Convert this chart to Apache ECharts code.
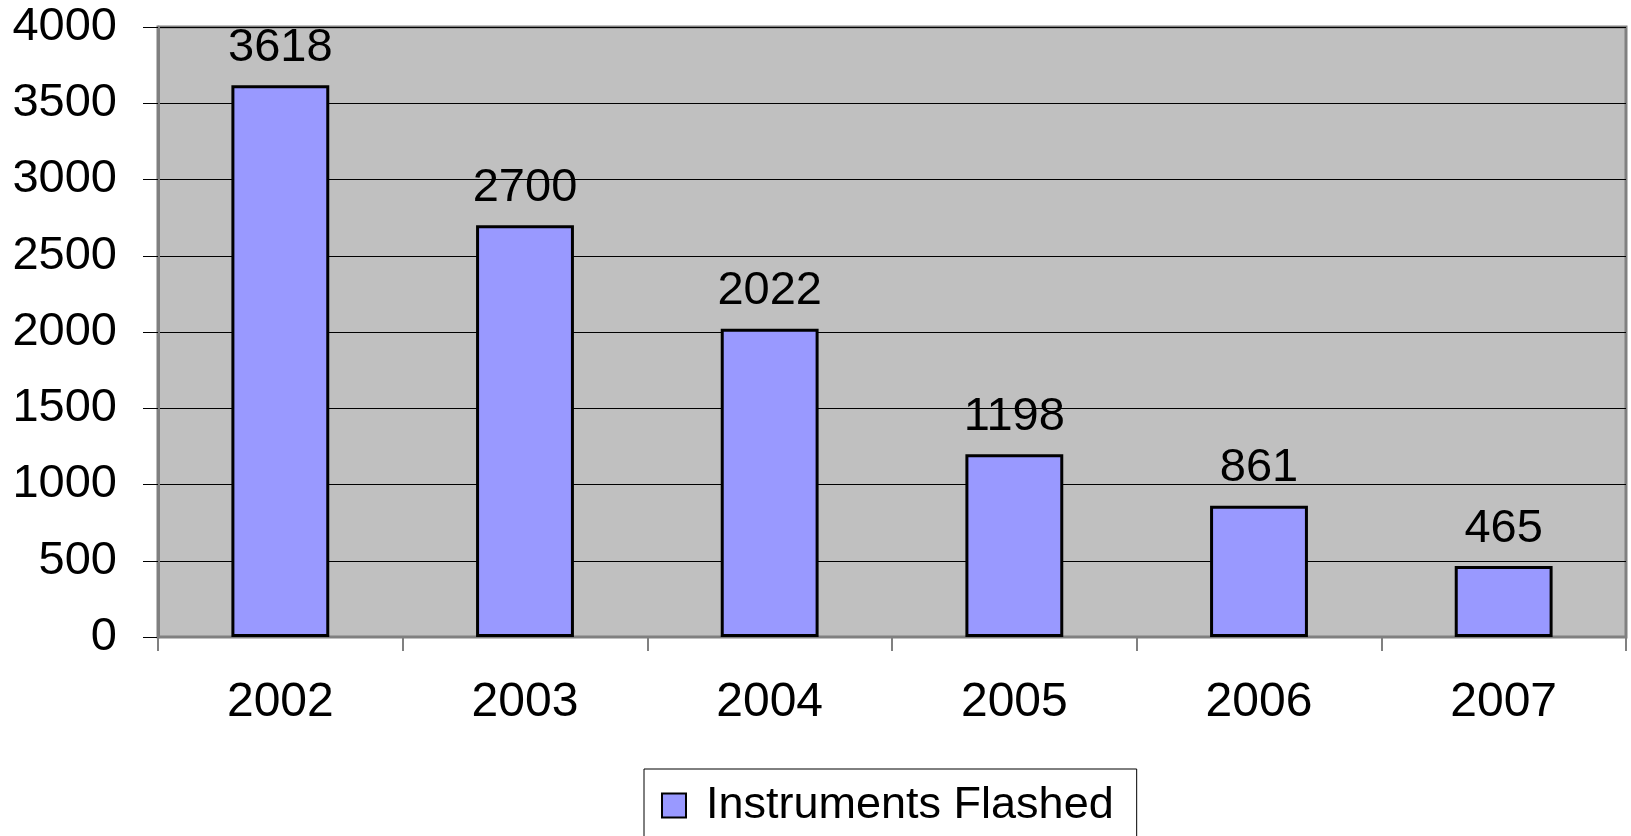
<!DOCTYPE html>
<html>
<head>
<meta charset="utf-8">
<script src="https://cdn.jsdelivr.net/npm/echarts@6/dist/echarts.min.js"></script>
<style>
  html, body { margin: 0; padding: 0; background: #ffffff; }
  #chart { width: 1631px; height: 836px; }
</style>
</head>
<body>
<div id="chart"></div>
<script>
// Yearly counts of instruments flashed
const years = ['2002', '2003', '2004', '2005', '2006', '2007'];
const instrumentsFlashed = [3618, 2700, 2022, 1198, 861, 465];
const seriesName = 'Instruments Flashed';

const FONT = "'Liberation Sans', Arial, sans-serif";

const chart = echarts.init(document.getElementById('chart'), null, { renderer: 'canvas' });
chart.setOption({
  animation: false,
  backgroundColor: '#ffffff',
  grid: {
    left: 158, top: 27, right: 5, bottom: 199,
    show: true,
    backgroundColor: '#c0c0c0',
    borderColor: '#808080',
    borderWidth: 3
  },
  legend: {
    show: true,
    left: 644,
    top: 769,
    orient: 'horizontal',
    backgroundColor: '#ffffff',
    borderColor: '#000000',
    borderWidth: 1,
    borderRadius: 0,
    padding: [14, 23, 40, 17],
    itemWidth: 24,
    itemHeight: 24,
    icon: 'rect',
    itemStyle: { borderColor: '#000000', borderWidth: 2 },
    textStyle: {
      fontFamily: FONT, fontSize: 45, color: '#000000',
      lineHeight: 27, padding: [0, 0, 0, 15]
    },
    data: [seriesName]
  },
  xAxis: {
    type: 'category',
    data: years,
    axisLine: { show: true, lineStyle: { color: '#808080', width: 2 } },
    axisTick: { show: true, length: 14, lineStyle: { color: '#808080', width: 2 } },
    axisLabel: { fontFamily: FONT, fontSize: 48, color: '#000000', margin: 42 },
    splitLine: { show: false }
  },
  yAxis: {
    type: 'value',
    min: 0, max: 4000, interval: 500,
    axisLine: { show: true, lineStyle: { color: '#808080', width: 3 } },
    axisTick: { show: true, inside: false, length: 15, lineStyle: { color: '#000000', width: 1 } },
    axisLabel: {
      fontFamily: FONT, fontSize: 47, color: '#000000', margin: 41,
      formatter: (v) => String(v)
    },
    splitLine: { show: true, lineStyle: { color: '#000000', width: 1 } }
  },
  series: [{
    name: seriesName,
    type: 'bar',
    data: instrumentsFlashed,
    barWidth: '40%',
    itemStyle: { color: '#9999ff', borderColor: '#000000', borderWidth: 3 },
    label: {
      show: true, position: 'top', distance: 14,
      fontFamily: FONT, fontSize: 47, color: '#000000'
    }
  }]
});
</script>
</body>
</html>
